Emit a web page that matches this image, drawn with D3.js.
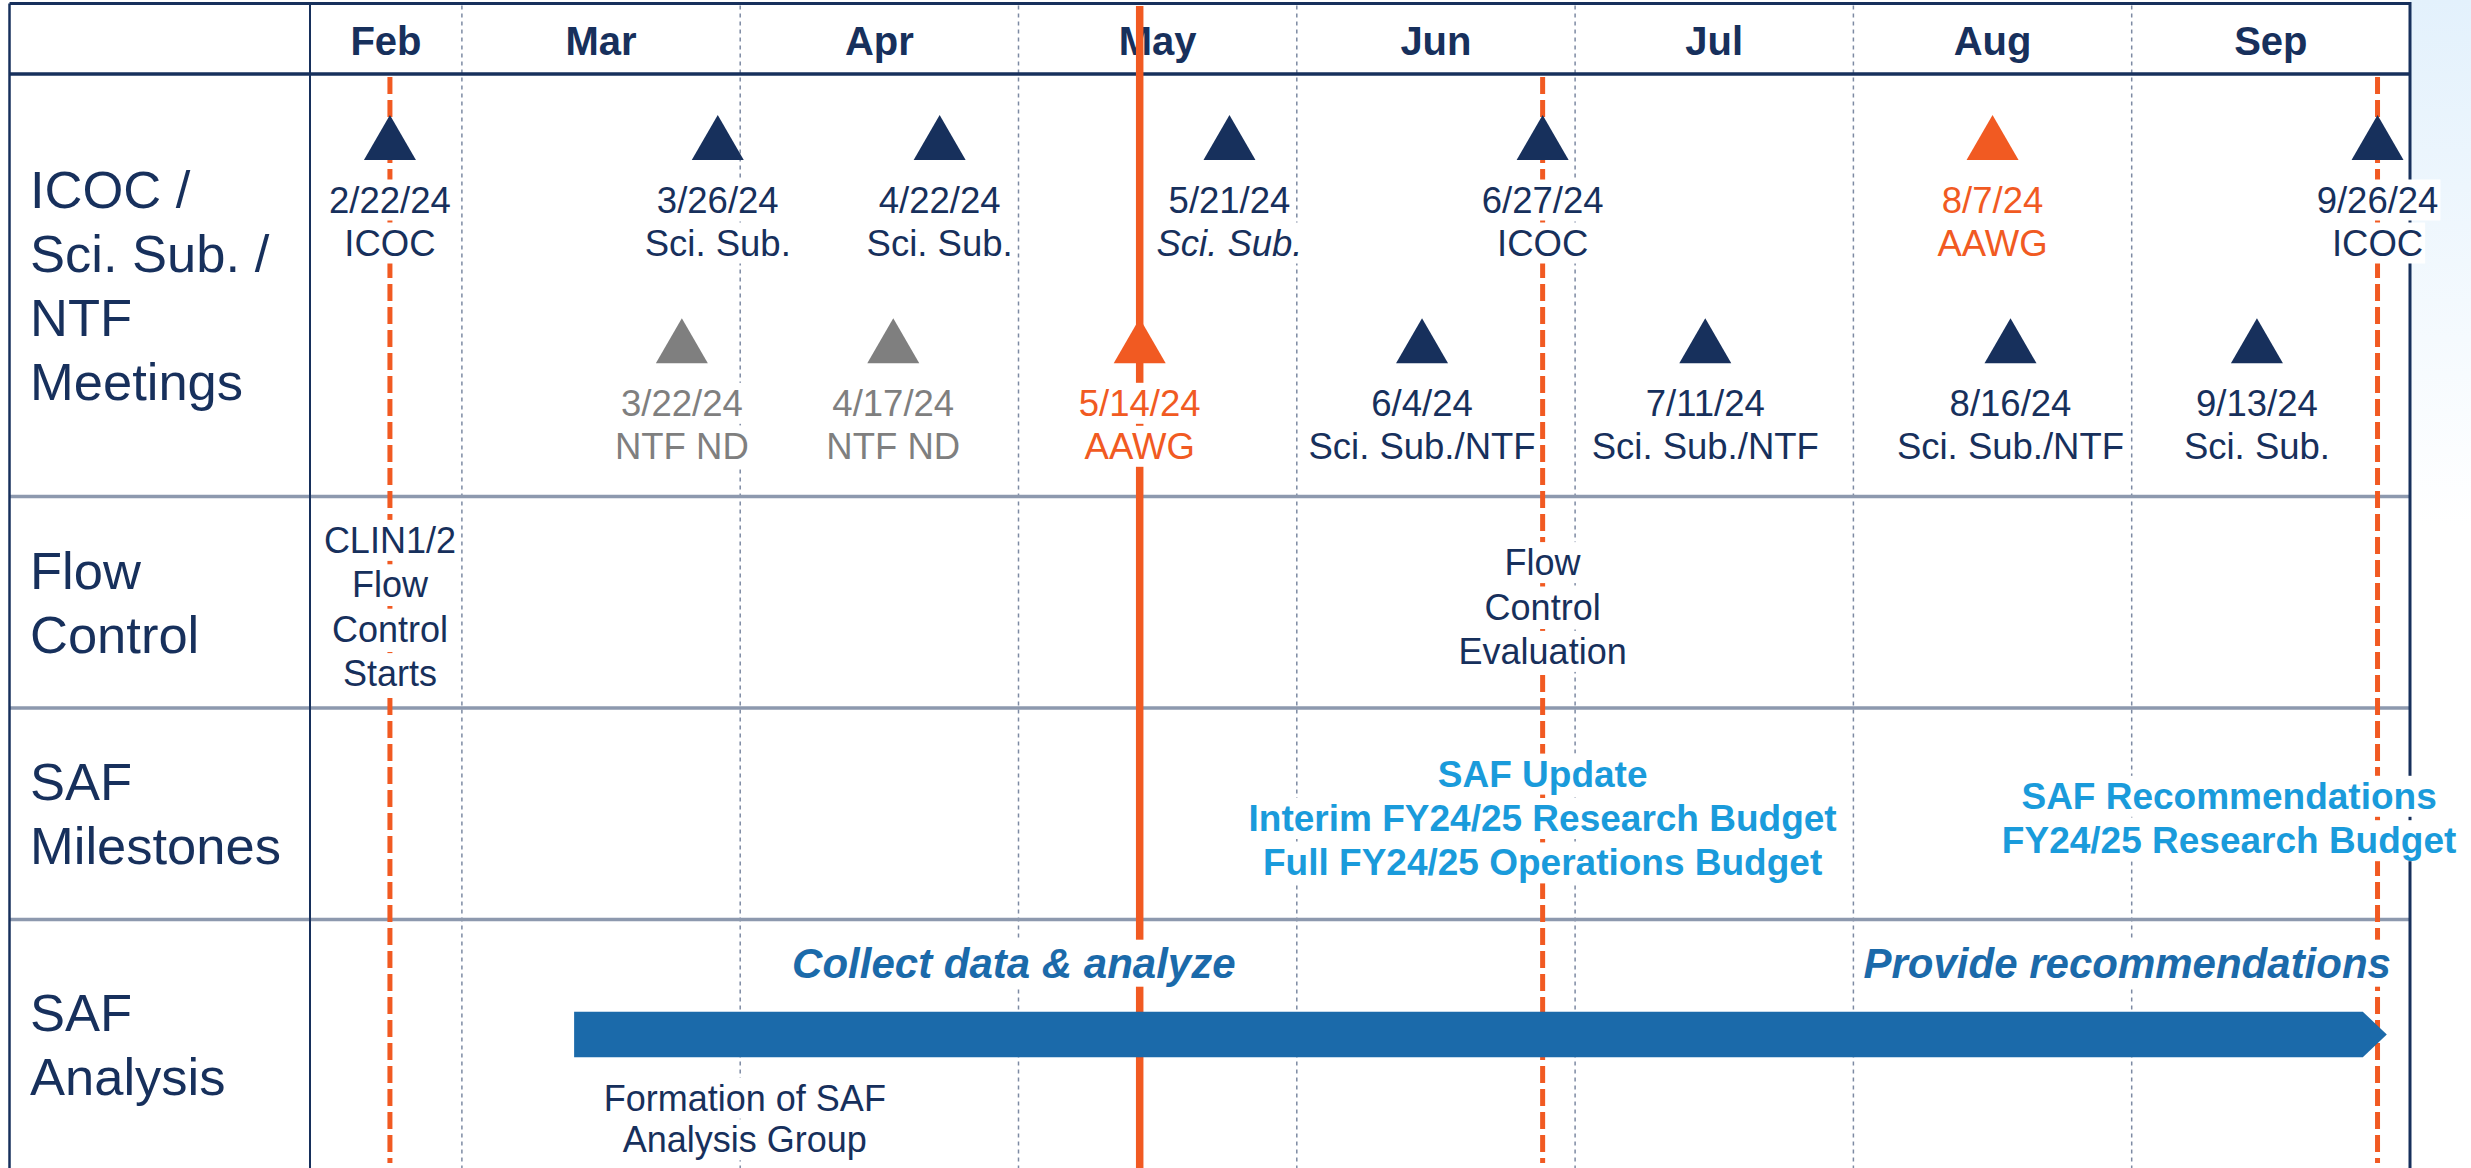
<!DOCTYPE html>
<html><head><meta charset="utf-8">
<script src="https://cdn.jsdelivr.net/npm/d3@7"></script>
<style>
html,body{margin:0;padding:0;background:#fff;overflow:hidden;}
svg{display:block;font-family:"Liberation Sans", Arial, Helvetica, sans-serif;}
</style></head><body>
<svg id="c" width="2471" height="1168"></svg>
<script>
// ---------------- DATA ----------------
const months = ["Feb","Mar","Apr","May","Jun","Jul","Aug","Sep"];
const monthNumbers = [2,3,4,5,6,7,8,9];
const rowLabels = [
  ["ICOC /","Sci. Sub. /","NTF","Meetings"],
  ["Flow","Control"],
  ["SAF","Milestones"],
  ["SAF","Analysis"]
];
// meetings: text label, meeting name, date where the marker is drawn (as read), tier (0 = upper, 1 = lower), kind
const meetingLabels = ["2/22/24","3/26/24","4/22/24","5/21/24","6/27/24","8/7/24","9/26/24",
                       "3/22/24","4/17/24","5/14/24","6/4/24","7/11/24","8/16/24","9/13/24"];
const meetingNames  = ["ICOC","Sci. Sub.","Sci. Sub.","Sci. Sub.","ICOC","AAWG","ICOC",
                       "NTF ND","NTF ND","AAWG","Sci. Sub./NTF","Sci. Sub./NTF","Sci. Sub./NTF","Sci. Sub."];
const meetingDrawnAt = ["2024-02-22","2024-03-29","2024-04-22","2024-05-24","2024-06-27","2024-08-16","2024-09-27",
                        "2024-03-25","2024-04-17","2024-05-14","2024-06-14","2024-07-15","2024-08-18","2024-09-14"];
const meetingTiers = [0,0,0,0,0,0,0, 1,1,1,1,1,1,1];
const meetingKinds = ["ICOC","SciSub","SciSub","SciSubTentative","ICOC","AAWG","ICOC",
                      "NTFND","NTFND","AAWG","SciSubNTF","SciSubNTF","SciSubNTF","SciSub"];
const todayDate = "2024-05-14";
const flowNoteDates = ["2024-02-22","2024-06-27"];
const flowNoteLines = [["CLIN1/2","Flow","Control","Starts"],["Flow","Control","Evaluation"]];
const milestoneDates = ["2024-06-27","2024-09-11"];
const milestoneLines = [["SAF Update","Interim FY24/25 Research Budget","Full FY24/25 Operations Budget"],
                        ["SAF Recommendations","FY24/25 Research Budget"]];
const analysisStart = "2024-03-13";
const analysisEnd = "2024-09-28";
const phaseLabels = ["Collect data & analyze","Provide recommendations"];
const phaseDates = ["2024-04-30","2024-08-31"];
const formationDate = "2024-04-01";
const formationLines = ["Formation of SAF","Analysis Group"];

// ---------------- STYLE / LAYOUT ----------------
const NAVY = "#17305c", ORANGE = "#f15a22", GRAY = "#7f7f7f", SKY = "#1a9bdb", BAR = "#1b6aaa", GRID = "#7d8aa3", ROWLINE = "#8d99ae";
const W = 2471, H = 1168;
const L = 9.5, LABR = 310, R = 2410, TOP = 3.5, HEAD = 74;
const rowEdges = [74, 496.5, 708, 919.5, 1170];

const svg = d3.select("#c");
const parse = d3.timeParse("%Y-%m-%d");
function monthPos(s){
  const d = d3.timeHour.offset(parse(s), 12);
  const m0 = d3.timeMonth.floor(d), m1 = d3.timeMonth.offset(m0, 1);
  return (m0.getMonth() + 1) + (d - m0) / (m1 - m0);
}
const x = d3.scaleLinear().domain([2, 10]).range([183.6, R]);

// background tint on right
const defs = svg.append("defs");
const lg = defs.append("linearGradient").attr("id","bgR").attr("x1",0).attr("y1",0).attr("x2",0).attr("y2",1);
lg.append("stop").attr("offset","0%").attr("stop-color","#e3f1fc");
lg.append("stop").attr("offset","45%").attr("stop-color","#ffffff");
lg.append("stop").attr("offset","100%").attr("stop-color","#ffffff");
svg.append("rect").attr("x",0).attr("y",0).attr("width",W).attr("height",H).attr("fill","#fff");
svg.append("rect").attr("x",R).attr("y",0).attr("width",W-R).attr("height",H).attr("fill","url(#bgR)");

// month gridlines
const gGrid = svg.append("g");
gGrid.selectAll("line").data(monthNumbers.slice(1)).join("line")
  .attr("x1", d => x(d)).attr("x2", d => x(d))
  .attr("y1", TOP+2).attr("y2", H)
  .attr("stroke", GRID).attr("stroke-width", 1.5).attr("stroke-dasharray","4,4");

// row lines
svg.append("g").selectAll("line").data(rowEdges.slice(1,4)).join("line")
  .attr("x1", L).attr("x2", R).attr("y1", d => d).attr("y2", d => d)
  .attr("stroke", ROWLINE).attr("stroke-width", 3.5);

// borders
const gB = svg.append("g").attr("stroke", NAVY).attr("fill","none");
gB.append("line").attr("x1",L).attr("x2",R).attr("y1",TOP).attr("y2",TOP).attr("stroke-width",3);
gB.append("line").attr("x1",L).attr("x2",R).attr("y1",HEAD).attr("y2",HEAD).attr("stroke-width",3.5);
gB.append("line").attr("x1",L).attr("x2",L).attr("y1",TOP).attr("y2",H).attr("stroke-width",2.5);
gB.append("line").attr("x1",LABR).attr("x2",LABR).attr("y1",TOP).attr("y2",H).attr("stroke-width",2);
gB.append("line").attr("x1",R).attr("x2",R).attr("y1",TOP-1.5).attr("y2",H).attr("stroke-width",3);

// header month labels
svg.append("g").selectAll("text").data(monthNumbers).join("text")
  .attr("x", d => (Math.max(x(d), LABR) + x(d+1)) / 2)
  .attr("y", 55)
  .attr("text-anchor","middle")
  .attr("fill", NAVY).attr("font-weight","bold").attr("font-size", 40)
  .text((d,i) => months[i]);

// row labels
const gRL = svg.append("g");
rowLabels.forEach((lines, r) => {
  const c = (rowEdges[r] + rowEdges[r+1]) / 2;
  const sp = 64, cap = 37;
  const first = c - (lines.length - 1) * sp / 2 + cap / 2;
  lines.forEach((t, k) => {
    gRL.append("text").attr("x", 30).attr("y", first + k * sp)
      .attr("fill", NAVY).attr("font-size", 52.5).text(t);
  });
});

// orange lines: ICOC dashed + today solid
const icocDates = meetingDrawnAt.filter((d, i) => meetingKinds[i] === "ICOC");
svg.append("g").selectAll("line").data(icocDates).join("line")
  .attr("x1", d => x(monthPos(d))).attr("x2", d => x(monthPos(d)))
  .attr("y1", HEAD + 3).attr("y2", 1163)
  .attr("stroke", ORANGE).attr("stroke-width", 5).attr("stroke-dasharray","17,6");
svg.append("line")
  .attr("x1", x(monthPos(todayDate))).attr("x2", x(monthPos(todayDate)))
  .attr("y1", 6).attr("y2", H)
  .attr("stroke", ORANGE).attr("stroke-width", 7.5);

// helper: text with white box
const gT = svg.append("g");
function boxedText(cx, y, str, opt){
  const t = gT.append("text").attr("x", cx).attr("y", y).attr("text-anchor","middle")
    .attr("fill", opt.color).attr("font-size", opt.size)
    .attr("font-weight", opt.bold ? "bold" : "normal")
    .attr("font-style", opt.italic ? "italic" : "normal")
    .text(str);
  const b = t.node().getBBox();
  gT.insert("rect", () => t.node())
    .attr("x", b.x - 2).attr("y", b.y).attr("width", b.width + 4).attr("height", b.height)
    .attr("fill", "#fff");
  return t;
}
function kindColor(k){ return k === "AAWG" ? ORANGE : (k === "NTFND" ? GRAY : NAVY); }

// meeting labels
const tierApex = [rowEdges[0] + 41, rowEdges[0] + 244.3];
meetingLabels.forEach((lab, i) => {
  const cx = x(monthPos(meetingDrawnAt[i]));
  const ap = tierApex[meetingTiers[i]];
  const col = kindColor(meetingKinds[i]);
  boxedText(cx, ap + 97.5, lab, {color: col, size: 36.5});
  boxedText(cx, ap + 140.5, meetingNames[i], {color: col, size: 36.5, italic: meetingKinds[i] === "SciSubTentative"});
});

// triangles
const triH = 45, triW = 52;
svg.append("g").selectAll("path").data(meetingLabels.map((d,i) => i)).join("path")
  .attr("d", i => {
    const cx = x(monthPos(meetingDrawnAt[i])), ap = tierApex[meetingTiers[i]];
    return `M${cx},${ap} L${cx + triW/2},${ap + triH} L${cx - triW/2},${ap + triH} Z`;
  })
  .attr("fill", i => kindColor(meetingKinds[i]));

// flow control notes
flowNoteLines.forEach((lines, n) => {
  const c = (rowEdges[1] + rowEdges[2]) / 2 + 4.5;
  const sp = 44.4, cap = 25.5;
  const first = c - (lines.length - 1) * sp / 2 + cap / 2;
  lines.forEach((t, k) => boxedText(x(monthPos(flowNoteDates[n])), first + k * sp, t, {color: NAVY, size: 36}));
});

// milestones
milestoneLines.forEach((lines, n) => {
  const c = (rowEdges[2] + rowEdges[3]) / 2 + 4;
  const sp = 44.4, cap = 26.5;
  const first = c - (lines.length - 1) * sp / 2 + cap / 2;
  lines.forEach((t, k) => boxedText(x(monthPos(milestoneDates[n])), first + k * sp, t, {color: SKY, size: 37, bold: true}));
});

// analysis row
const aTop = rowEdges[3];
phaseLabels.forEach((t, i) => boxedText(x(monthPos(phaseDates[i])), aTop + 58.2, t, {color: BAR, size: 42, bold: true, italic: true}));
formationLines.forEach((t, k) => boxedText(x(monthPos(formationDate)), aTop + 191.2 + k * 41.6, t, {color: NAVY, size: 36}));

const bx0 = x(monthPos(analysisStart)), bx1 = x(monthPos(analysisEnd));
const by0 = aTop + 92.2, by1 = aTop + 137.8, head = 24;
svg.append("path")
  .attr("d", `M${bx0},${by0} L${bx1 - head},${by0} L${bx1},${(by0+by1)/2} L${bx1 - head},${by1} L${bx0},${by1} Z`)
  .attr("fill", BAR);
</script>
</body></html>
